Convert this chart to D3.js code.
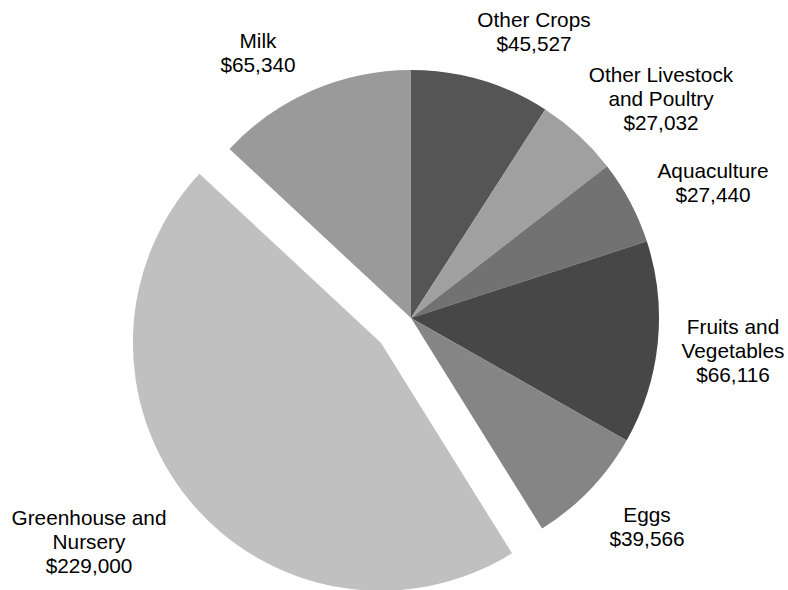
<!DOCTYPE html>
<html>
<head>
<meta charset="utf-8">
<script src="https://cdn.jsdelivr.net/npm/d3@7"></script>
<style>
  html, body { margin: 0; padding: 0; background: #fff; }
  svg { display: block; }
  text { font-family: "Liberation Sans", Arial, sans-serif; font-size: 20.8px; fill: #000; }
</style>
</head>
<body>
<svg id="chart" width="788" height="590"></svg>
<script>
const categories = ["Other Crops", "Other Livestock and Poultry", "Aquaculture", "Fruits and Vegetables", "Eggs", "Greenhouse and Nursery", "Milk"];
const values = [45527, 27032, 27440, 66116, 39566, 229000, 65340];
const labelLines = [
  ["Other Crops"],
  ["Other Livestock", "and Poultry"],
  ["Aquaculture"],
  ["Fruits and", "Vegetables"],
  ["Eggs"],
  ["Greenhouse and", "Nursery"],
  ["Milk"]
];
const colors = ["#555555", "#a0a0a0", "#727272", "#474747", "#858585", "#c0c0c0", "#9a9a9a"];
const exploded = [false, false, false, false, false, true, false];

const W = 788, H = 590;
const cx = 411, cy = 318, R = 248, explodeDist = 39;
// label anchor positions (centre x, first baseline y)
const labelPos = [
  [534, 27], [661, 81.5], [713, 178], [733, 333.5], [647, 522], [89, 525], [258, 48]
];

const svg = d3.select("#chart");
const g = svg.append("g").attr("transform", `translate(${cx},${cy})`);

const pie = d3.pie().sort(null).value(d => d.value);
const arc = d3.arc().innerRadius(0).outerRadius(R);
const data = categories.map((c, i) => ({ name: c, value: values[i], i }));
const arcs = pie(data);
const fmt = d3.format("$,");

g.selectAll("path")
  .data(arcs)
  .join("path")
  .attr("d", arc)
  .attr("fill", d => colors[d.data.i])
  .attr("transform", d => {
    if (!exploded[d.data.i]) return null;
    const a = (d.startAngle + d.endAngle) / 2;
    return `translate(${Math.sin(a) * explodeDist},${-Math.cos(a) * explodeDist})`;
  });

const labels = svg.selectAll("text.lbl")
  .data(arcs)
  .join("text")
  .attr("class", "lbl")
  .attr("text-anchor", "middle")
  .attr("x", d => labelPos[d.data.i][0])
  .attr("y", d => labelPos[d.data.i][1]);

labels.each(function(d) {
  const t = d3.select(this);
  const lines = labelLines[d.data.i].concat([fmt(d.data.value)]);
  lines.forEach((ln, k) => {
    t.append("tspan")
      .attr("x", labelPos[d.data.i][0])
      .attr("y", labelPos[d.data.i][1] + k * 24)
      .text(ln);
  });
});
</script>
</body>
</html>
